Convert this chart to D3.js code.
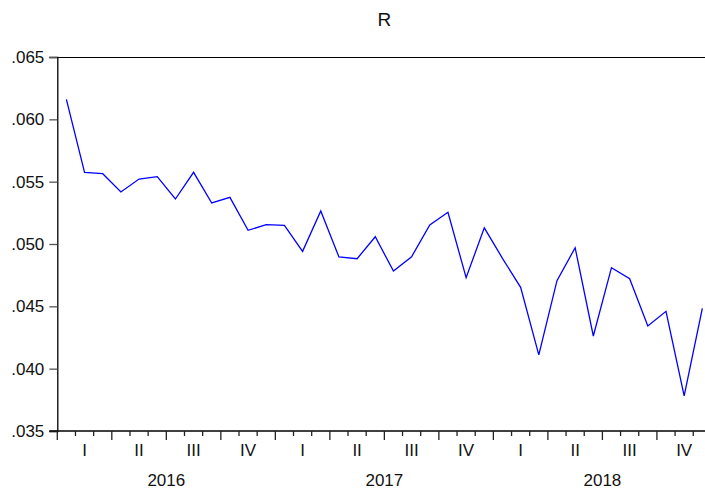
<!DOCTYPE html>
<html>
<head>
<meta charset="utf-8">
<script src="https://cdn.jsdelivr.net/npm/d3@7"></script>
<style>
  body { margin: 0; background: #fff; }
  svg { display: block; overflow: hidden; }
  text { font-family: "Liberation Sans", Arial, sans-serif; fill: #111; }
</style>
</head>
<body>
<div id="chart"></div>
<script>
"use strict";

const WIDTH = 705, HEIGHT = 491;

// monthly series, Jan 2016 .. Dec 2018
var years = [2016, 2017, 2018];
var quarters = ["I", "II", "III", "IV"];
var yTicks = [0.035, 0.040, 0.045, 0.050, 0.055, 0.060, 0.065];
var values = [
  0.0616, 0.05575, 0.05564, 0.05417, 0.05521, 0.0554, 0.05361, 0.05575, 0.05329, 0.05374, 0.0511, 0.05155,
  0.0515, 0.04941, 0.05265, 0.04896, 0.04882, 0.05058, 0.04783, 0.04898, 0.05152, 0.05254, 0.0473, 0.0513,
  0.04885, 0.04652, 0.0411, 0.04706, 0.0497, 0.04262, 0.0481, 0.04722, 0.04342, 0.0446, 0.03781, 0.04484
];

var margin = { left: 57.3, top: 57, bottom: 431 };
var monthW = 18.17;
var plotRight = margin.left + values.length * monthW;

var svg = d3.select("#chart").append("svg")
  .attr("width", WIDTH)
  .attr("height", HEIGHT);

var xScale = d3.scaleLinear()
  .domain([0, values.length])
  .range([margin.left, plotRight]);
var yScale = d3.scaleLinear()
  .domain([0.035, 0.065])
  .range([margin.bottom, margin.top]);

// title
svg.append("text")
  .attr("x", (margin.left + plotRight) / 2)
  .attr("y", 26)
  .attr("text-anchor", "middle")
  .attr("font-size", 19)
  .text("R");

// top frame line
svg.append("line")
  .attr("x1", margin.left).attr("x2", plotRight)
  .attr("y1", margin.top + 0.5).attr("y2", margin.top + 0.5)
  .attr("stroke", "#000").attr("stroke-width", 1.2);

// y axis
var yAxis = d3.axisLeft(yScale)
  .tickValues(yTicks)
  .tickSize(8)
  .tickPadding(5)
  .tickFormat(function (d) { return d3.format(".3f")(d).replace(/^0/, ""); });
var gy = svg.append("g")
  .attr("transform", "translate(" + margin.left + ",0)")
  .call(yAxis);
gy.select(".domain").attr("stroke", "#000").attr("stroke-width", 1.3);
gy.selectAll(".tick line").attr("stroke", "#555").attr("stroke-width", 1.3);
gy.selectAll("text")
  .attr("font-size", 17)
  .attr("font-family", "Liberation Sans, Arial, sans-serif")
  .attr("fill", "#111");

// x axis: monthly minor ticks, quarterly major ticks
var gx = svg.append("g");
gx.append("line")
  .attr("x1", margin.left - 8).attr("x2", plotRight)
  .attr("y1", margin.bottom).attr("y2", margin.bottom)
  .attr("stroke", "#000").attr("stroke-width", 1.3);
gx.selectAll(".mtick")
  .data(d3.range(values.length + 1))
  .join("line")
  .attr("x1", function (d) { return xScale(d); })
  .attr("x2", function (d) { return xScale(d); })
  .attr("y1", margin.bottom)
  .attr("y2", function (d) { return margin.bottom + (d % 3 === 0 ? 9 : 5); })
  .attr("stroke", "#222")
  .attr("stroke-width", 1.3);

var qData = d3.range(years.length * 4);
gx.selectAll(".qlab")
  .data(qData)
  .join("text")
  .attr("x", function (d) { return xScale(d * 3 + 1.5); })
  .attr("y", 456)
  .attr("text-anchor", "middle")
  .attr("font-size", 17)
  .text(function (d) { return quarters[d % 4]; });

gx.selectAll(".ylab")
  .data(years)
  .join("text")
  .attr("x", function (d, i) { return xScale(i * 12 + 6); })
  .attr("y", 486)
  .attr("text-anchor", "middle")
  .attr("font-size", 17)
  .text(function (d) { return d; });

// series line
var line = d3.line()
  .x(function (d, i) { return xScale(i + 0.5); })
  .y(function (d) { return yScale(d); });

svg.append("path")
  .datum(values)
  .attr("fill", "none")
  .attr("stroke", "#0000ff")
  .attr("stroke-width", 1.3)
  .attr("d", line);
</script>
</body>
</html>
